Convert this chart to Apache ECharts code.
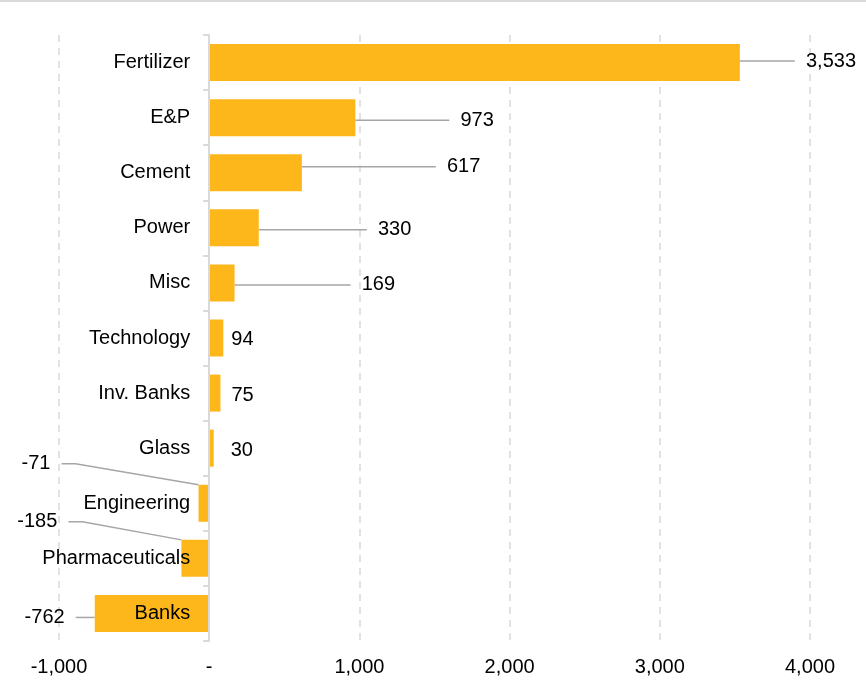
<!DOCTYPE html>
<html>
<head>
<meta charset="utf-8">
<script src="https://cdn.jsdelivr.net/npm/echarts@6/dist/echarts.min.js"></script>
<style>
  html, body { margin: 0; padding: 0; background: #fff; }
  #chart { width: 866px; height: 682px; }
</style>
</head>
<body>
<div id="chart"></div>
<script>
// Sector contributions, top to bottom
const sectors = ['Fertilizer', 'E&P', 'Cement', 'Power', 'Misc', 'Technology',
                 'Inv. Banks', 'Glass', 'Engineering', 'Pharmaceuticals', 'Banks'];
const values = [3533, 973, 617, 330, 169, 94, 75, 30, -71, -185, -762];

// Value axis ticks
const axisMin = -1000;
const axisMax = 4000;
const axisStep = 1000;

// Value-label nudges (pixels) relative to the default label spot
const labelDx = [50, 89, 129, 103, 111, 3, 6, 12, -132, -108, -14];
const labelDy = [-1.5, 2.5, -6, 2, 2, 1, 2, 2, -39.5, -36.5, 4];
// Which value labels are tied to their bar with a guide line
const hasGuide = [true, true, true, true, true, false, false, false, true, true, true];

const fmt = v => (v === 0 ? '-' : Number(v).toLocaleString('en-US'));
const GAP = '\u0020\u0020';

const seriesData = values.map((v, i) => ({
  value: v,
  label: { position: v < 0 ? 'left' : 'right' },
  labelLine: { show: hasGuide[i] }
}));

// Value text, leaving a small gap between the guide line and the number
function valueText(p) {
  const s = fmt(p.value);
  if (!hasGuide[p.dataIndex]) return s;
  return p.value < 0 ? s + GAP : GAP + s;
}

const gridLeft = 59;

const chart = echarts.init(document.getElementById('chart'), null, { renderer: 'canvas' });

chart.setOption({
  animation: false,
  textStyle: { fontFamily: '"Liberation Sans", Arial, sans-serif' },
  graphic: [{
    type: 'rect',
    left: 0, top: 0,
    shape: { width: 866, height: 2 },
    style: { fill: '#d9d9d9' },
    silent: true
  }],
  grid: { left: gridLeft, right: 56, top: 35, bottom: 41, containLabel: false, outerBoundsMode: 'none' },
  xAxis: {
    type: 'value',
    min: axisMin,
    max: axisMax,
    interval: axisStep,
    axisLine: { show: false },
    axisTick: { show: false },
    splitLine: { show: true, lineStyle: { color: '#d9d9d9', width: 1.5, type: [7, 6] } },
    axisLabel: { fontSize: 20, color: '#000', margin: 16, formatter: fmt }
  },
  yAxis: {
    type: 'category',
    data: sectors,
    inverse: true,
    z: 10,
    axisLine: { show: true, onZero: false, lineStyle: { color: '#d9d9d9', width: 2 } },
    axisTick: { show: true, length: 6, lineStyle: { color: '#d9d9d9', width: 2 } },
    axisLabel: { fontSize: 20, color: '#000', margin: 19, padding: [4, 0, 0, 0] },
    splitLine: { show: false }
  },
  series: [{
    type: 'bar',
    data: seriesData,
    barWidth: 37,
    itemStyle: { color: '#fdb71a' },
    label: {
      show: true,
      distance: 5,
      fontSize: 20,
      color: '#000',
      formatter: valueText
    },
    labelLine: {
      show: true,
      length2: 14,
      lineStyle: { color: '#a6a6a6', width: 1.5 }
    },
    labelLayout: p => ({ dx: labelDx[p.dataIndex], dy: labelDy[p.dataIndex] })
  }]
});

// Move the category axis (line, ticks and labels) onto the zero line
const zeroX = chart.convertToPixel({ xAxisIndex: 0 }, 0);
chart.setOption({ yAxis: { offset: -(zeroX - gridLeft) } });
</script>
</body>
</html>
